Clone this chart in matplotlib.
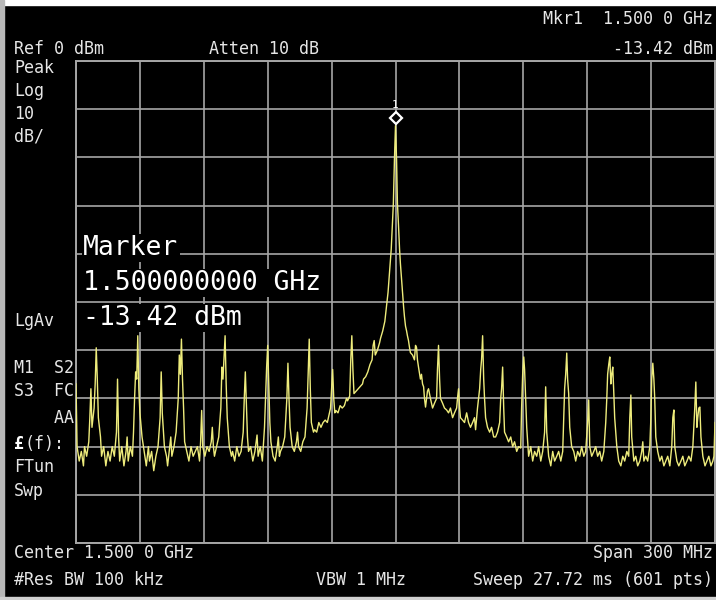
import matplotlib
matplotlib.use('Agg')
import matplotlib.pyplot as plt
import matplotlib.transforms as mtransforms
import numpy as np

# analyzer settings shown on screen
CENTER_MHZ = 1500.0
SPAN_MHZ = 300.0
REF_DBM = 0.0
DB_PER_DIV = 10.0
N_DIV = 10

mkr_freq = 1500.0
mkr_level = -13.42

# trace (MHz / dBm), in three pieces
left_freq = [
    1350, 1350.5, 1351.5, 1352.5, 1353.5, 1354, 1355, 1356, 1356.5, 1357,
    1357.5, 1358.5, 1359, 1359.5, 1360, 1360.5, 1361.5, 1362, 1363, 1364,
    1365, 1366, 1367, 1368, 1369, 1369.5, 1370, 1370.5, 1371.5, 1372.5,
    1373.5, 1374, 1374.5, 1375.5, 1376.5, 1377, 1377.5, 1378, 1378.5, 1379,
    1379.5, 1380, 1381, 1382, 1383, 1384, 1384.5, 1385.5, 1386.5, 1387.5,
    1388.5, 1389.5, 1390, 1390.5, 1391.5, 1392.5, 1393, 1394, 1394.5, 1395,
    1396, 1397, 1398, 1398.5, 1399, 1399.5, 1400, 1400.5, 1401, 1402,
    1403, 1404, 1405, 1406, 1407, 1408, 1408.5, 1409, 1409.5, 1410.5,
    1411.5, 1412.5, 1413.5, 1414, 1414.5, 1415, 1416, 1417, 1418, 1418.5,
    1419, 1420, 1420.5, 1421, 1422, 1423, 1423.5, 1424.5,
]
left_level = [
    -67, -80, -83, -81, -84, -80, -82, -79, -74, -68,
    -76, -72, -67, -59.5, -66, -74, -78, -82, -80, -84,
    -81, -83, -80, -82, -77, -66, -78, -83, -80, -84,
    -81, -78, -83, -80, -82, -77, -70, -64.5, -66, -57,
    -68, -73, -78, -81, -84, -80, -83, -81, -85, -82,
    -80, -74, -64.5, -73, -80, -82, -84, -80, -78, -82,
    -80, -77, -70, -61, -65, -57.7, -66, -72, -79, -81,
    -83, -80, -82, -81, -80, -83, -79, -72.5, -80, -82,
    -80, -81, -79, -76, -80, -82, -80, -78, -72, -63.5,
    -66, -57, -67, -74, -80, -82, -81, -83,
]

mid_freq = [
    1425.5, 1426.5, 1427.5, 1428.5, 1429, 1429.5, 1430, 1430.5, 1431, 1432,
    1433, 1434, 1435, 1435.5, 1436.5, 1437.5, 1438.5, 1439, 1439.5, 1440,
    1440.5, 1441, 1441.5, 1442.5, 1443.5, 1444.5, 1445, 1445.5, 1446, 1447,
    1448, 1449, 1449.5, 1450, 1450.5, 1451.5, 1452.5, 1453.5, 1454, 1454.5,
    1455.5, 1456.5, 1457.5, 1458.5, 1459, 1459.5, 1460, 1460.5, 1461.5, 1462,
    1463, 1464, 1465, 1466, 1467, 1468, 1469, 1469.5, 1470, 1470.5,
    1471, 1471.5, 1472, 1473, 1474, 1475, 1476, 1477, 1477.5, 1478.5,
    1479, 1479.5, 1480, 1480.5, 1481.5, 1482.5, 1483.5, 1484.5, 1485, 1486,
    1487, 1488, 1489, 1489.5, 1490, 1490.5, 1491.5, 1492.5, 1493, 1494,
    1495, 1495.5, 1496, 1496.5, 1497, 1497.5, 1498, 1498.5, 1499, 1499.5,
    1500,
]
mid_level = [
    -80, -82, -81, -77, -70, -64.5, -71, -78, -81, -80,
    -83, -81, -77.6, -82, -80, -83, -76, -70, -63.5, -59,
    -67, -75, -79, -82, -83, -80, -78, -82, -81, -80,
    -78, -70, -62.7, -70, -76, -80, -81, -79, -77, -80,
    -81, -79, -78, -72, -65, -57.7, -68, -75, -77, -76.5,
    -77, -75, -76, -75, -74.5, -75, -73, -72, -68, -64,
    -70, -73, -72.5, -73, -71.5, -72, -71.5, -70, -70.5, -69.5,
    -62, -57, -64, -69, -68.5, -68, -67.5, -67, -66, -65.5,
    -64.5, -63, -62, -59, -58, -61, -60, -58.5, -57.5, -56,
    -54, -52, -50, -48, -45, -42, -39, -34, -29.5, -20.5,
    -13.42,
]

right_freq = [
    1500.5, 1500.9, 1501.4, 1501.9, 1502.3, 1502.8, 1503.3, 1503.8, 1504.2, 1504.7,
    1505.2, 1505.6, 1506.1, 1506.6, 1507.0, 1508.0, 1508.9, 1509.4, 1509.9, 1510.3,
    1510.8, 1511.7, 1512.2, 1512.7, 1513.2, 1513.6, 1514.1, 1514.6, 1515.0, 1515.5,
    1516.4, 1517.4, 1518.3, 1519.3, 1519.7, 1520.2, 1520.7, 1521.1, 1522.1, 1523.0,
    1524.0, 1524.9, 1525.8, 1526.8, 1527.7, 1528.7, 1529.1, 1529.6, 1530.1, 1530.5,
    1531.5, 1532.4, 1533.4, 1534.3, 1535.2, 1536.2, 1537.1, 1537.6, 1538.5, 1539.5,
    1540.0, 1540.4, 1540.9, 1541.4, 1541.8, 1542.3, 1543.2, 1544.2, 1545.1, 1546.1,
    1547.0, 1547.9, 1548.9, 1549.4, 1549.8, 1550.3, 1550.8, 1551.2, 1552.2, 1553.1,
    1554.1, 1555.0, 1555.9, 1556.9, 1557.8, 1558.8, 1559.2, 1559.7, 1560.2, 1560.6,
    1561.1, 1561.6, 1562.5, 1563.5, 1564.4, 1565.3, 1566.3, 1567.2, 1568.2, 1569.1,
    1570.0, 1570.5, 1571.0, 1571.9, 1572.9, 1573.8, 1574.7, 1575.7, 1576.6, 1577.6,
    1578.5, 1579.0, 1579.4, 1579.9, 1580.4, 1580.8, 1581.3, 1581.8, 1582.7, 1583.7,
    1584.6, 1585.5, 1586.5, 1587.4, 1588.4, 1589.3, 1590.2, 1590.7, 1591.2, 1592.1,
    1593.1, 1594.0, 1594.9, 1595.9, 1596.8, 1597.8, 1598.7, 1599.2, 1599.6, 1600.1,
    1600.6, 1601.1, 1601.5, 1602.0, 1602.5, 1602.9, 1603.9, 1604.8, 1605.8, 1606.7,
    1607.6, 1608.6, 1609.5, 1610.0, 1610.5, 1610.9, 1611.9, 1612.8, 1613.7, 1614.7,
    1615.6, 1616.1, 1616.6, 1617.5, 1618.4, 1619.4, 1619.9, 1620.3, 1620.8, 1621.3,
    1621.7, 1622.2, 1623.1, 1624.1, 1625.0, 1626.0, 1626.9, 1627.8, 1628.8, 1629.7,
    1630.2, 1630.7, 1631.1, 1632.1, 1633.0, 1634.0, 1634.9, 1635.8, 1636.8, 1637.7,
    1638.7, 1639.6, 1640.5, 1641.0, 1641.5, 1641.9, 1642.4, 1642.9, 1643.4, 1644.3,
    1645.3, 1646.2, 1647.1, 1648.1, 1649.0, 1649.5, 1650.0,
]
right_level = [
    -20.5, -29.5, -34, -39, -42, -45, -48, -51, -53, -55,
    -56, -57, -58, -59.5, -60.5, -61, -62, -59, -59.5, -62,
    -63.5, -66, -65, -67, -67.6, -70, -71.8, -70, -68.5, -68,
    -70, -72, -71, -70, -64, -59, -66, -70, -71, -72,
    -72.4, -73, -72, -74, -73, -72, -70, -68, -72, -74,
    -74.5, -75, -73, -75, -76, -75, -74, -76.5, -72, -68,
    -64, -62, -57, -66, -70, -74, -76, -77, -76, -78,
    -78, -77, -75, -70, -68, -63.5, -72, -77, -78, -79,
    -78, -80, -79, -81, -80, -80.3, -72, -65, -61.4, -64,
    -70, -76, -82, -80, -83, -81, -82, -80, -83, -81,
    -77, -67.6, -77, -82, -84, -81, -83, -82, -81, -83,
    -81, -74, -68, -65, -60.6, -66, -69, -76, -80, -81,
    -83, -81, -82, -80, -82, -81, -75, -70.3, -80, -82,
    -81, -80, -82, -81, -83, -81, -75, -70, -65, -63,
    -61.4, -67, -65, -63.5, -69, -74, -80, -83, -84, -82,
    -83, -81, -82, -74, -69.3, -78, -83, -82, -84, -83,
    -81, -79, -83, -82, -83, -80, -74, -66, -62.7, -66,
    -70, -78, -81, -83, -82, -84, -83, -82, -84, -80,
    -74, -72.4, -80, -83, -84, -83, -82, -84, -83, -82,
    -83, -80, -72, -66.6, -76, -74, -72, -71.8, -78, -82,
    -84, -83, -82, -84, -83, -82, -75,
]

header_lines = [
    ('Ref 0 dBm', 14, 49, 'left'),
    ('Atten 10 dB', 209, 49, 'left'),
    ('Mkr1  1.500 0 GHz', 713, 19, 'right'),
    ('-13.42 dBm', 713, 49, 'right'),
]
side_lines = [
    ('Peak', 68), ('Log', 91), ('10', 114), ('dB/', 137),
    ('LgAv', 321), ('M1  S2', 368), ('S3  FC', 391), ('    AA', 418),
    ('FTun', 467), ('Swp', 491),
]
footer_lines = [
    ('Center 1.500 0 GHz', 14, 553, 'left'),
    ('Span 300 MHz', 713, 553, 'right'),
    ('#Res BW 100 kHz', 14, 580, 'left'),
    ('VBW 1 MHz', 316, 580, 'left'),
    ('Sweep 27.72 ms (601 pts)', 713, 580, 'right'),
]
marker_box = ['Marker', '1.500000000 GHz', '-13.42 dBm']

W, H = 716, 600
MONO = 'DejaVu Sans Mono'
TXT = '#e6e6e6'
GRID = '#a6a6a6'


def px(x, y):
    return x / W, 1 - y / H


fig = plt.figure(figsize=(W / 100, H / 100), dpi=100, facecolor='black')

# screen bezel strips
fig.add_artist(plt.Rectangle((0, 1 - 5 / H), 1, 5 / H, transform=fig.transFigure,
                             color='white', zorder=0))
fig.add_artist(plt.Rectangle((0, 0), 4 / W, 1, transform=fig.transFigure,
                             color='#b8b8b8', zorder=0))
fig.add_artist(plt.Rectangle((0, 0), 1, 3 / H, transform=fig.transFigure,
                             color='#d0d0d0', zorder=0))

ax = fig.add_axes([76 / W, 1 - 543 / H, 639 / W, 482 / H])
ax.set_facecolor('black')
f0 = CENTER_MHZ - SPAN_MHZ / 2
f1 = CENTER_MHZ + SPAN_MHZ / 2
bottom = REF_DBM - N_DIV * DB_PER_DIV
ax.set_xlim(f0, f1)
ax.set_ylim(bottom, REF_DBM)
ax.set_xticks(np.linspace(f0, f1, N_DIV + 1))
ax.set_yticks(np.linspace(bottom, REF_DBM, N_DIV + 1))
ax.tick_params(length=0, labelbottom=False, labelleft=False)
ax.grid(True, color=GRID, lw=1.2)
for s in ax.spines.values():
    s.set_color(GRID)
    s.set_linewidth(1.4)

freq = left_freq + mid_freq + right_freq
level = left_level + mid_level + right_level
ax.plot(freq, level, color='#eeec7c', lw=1.0, zorder=3)

# marker 1
up = mtransforms.ScaledTranslation(0, 0.08, fig.dpi_scale_trans)
ax.plot(mkr_freq, mkr_level, marker='D', ms=6.5, mfc='black', mec='white',
        mew=1.6, transform=ax.transData + up, zorder=5, clip_on=False)
ax.annotate('1', (mkr_freq, mkr_level), xytext=(0, 21), textcoords='offset pixels',
            ha='center', va='center', color='white', fontsize=8, family=MONO,
            zorder=5)

for s, x, y, ha in header_lines:
    fig.text(*px(x, y), s, ha=ha, va='center', color=TXT, fontsize=12, family=MONO)
for s, y in side_lines:
    fig.text(*px(14, y), s, ha='left', va='center', color=TXT, fontsize=12, family=MONO)
fig.text(*px(14, 444), '£', ha='left', va='center', color='white', fontsize=12,
         family=MONO, fontweight='bold')
fig.text(*px(24, 444), '(f):', ha='left', va='center', color=TXT, fontsize=12,
         family=MONO)
for s, x, y, ha in footer_lines:
    fig.text(*px(x, y), s, ha=ha, va='center', color=TXT, fontsize=12, family=MONO)

for i, s in enumerate(marker_box):
    fig.text(*px(83, 248 + i * 35), s, ha='left', va='center', color='white',
             fontsize=19, family=MONO, zorder=10,
             bbox=dict(facecolor='black', edgecolor='none', pad=1.0))

fig.savefig('out.png', dpi=100, facecolor='black')
